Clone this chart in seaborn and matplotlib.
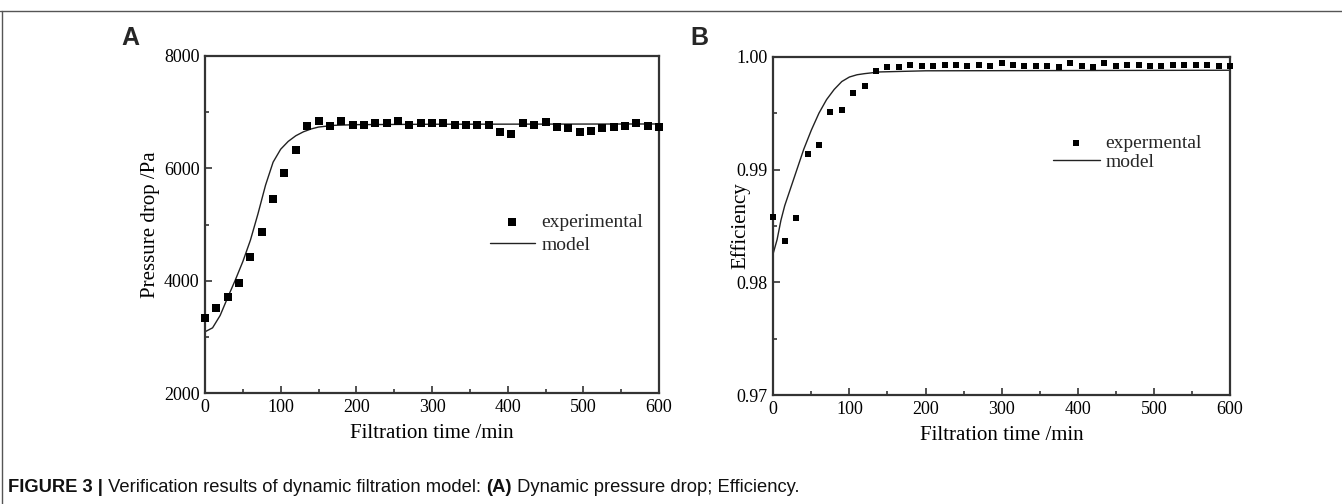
import matplotlib
matplotlib.use("Agg")
import matplotlib.pyplot as plt
from matplotlib import font_manager
from matplotlib.lines import Line2D
from matplotlib.ticker import MultipleLocator, FormatStrFormatter
import seaborn as sns
import pandas as pd

# ---------------- data ----------------
time_exp = [0, 15, 30, 45, 60, 75, 90, 105, 120, 135, 150, 165, 180, 195, 210, 225, 240,
            255, 270, 285, 300, 315, 330, 345, 360, 375, 390, 405, 420, 435, 450, 465,
            480, 495, 510, 525, 540, 555, 570, 585, 600]
pressure_exp = [3330, 3520, 3715, 3950, 4415, 4865, 5450, 5910, 6335, 6745, 6835, 6745,
                6835, 6780, 6770, 6815, 6815, 6845, 6770, 6805, 6810, 6810, 6765, 6765,
                6765, 6770, 6650, 6610, 6805, 6765, 6820, 6735, 6710, 6650, 6660, 6710,
                6735, 6745, 6800, 6745, 6730]
efficiency_exp = [0.9858, 0.9837, 0.9857, 0.9914, 0.9922, 0.9951, 0.9953, 0.9968, 0.9974,
                  0.9987, 0.9991, 0.9991, 0.9993, 0.9992, 0.9992, 0.9993, 0.9993, 0.9992,
                  0.9993, 0.9992, 0.9994, 0.9993, 0.9992, 0.9992, 0.9992, 0.9991, 0.9994,
                  0.9992, 0.9991, 0.9994, 0.9992, 0.9993, 0.9993, 0.9992, 0.9992, 0.9993,
                  0.9993, 0.9993, 0.9993, 0.9992, 0.9992]

time_model_p = [0, 10, 20, 30, 40, 50, 60, 70, 80, 90, 100, 110, 120, 130, 140, 150, 170,
                200, 300, 600]
pressure_model = [3090, 3160, 3380, 3700, 4010, 4340, 4720, 5190, 5700, 6110, 6340, 6480,
                  6580, 6650, 6700, 6735, 6765, 6778, 6785, 6790]

time_model_e = [0, 5, 10, 15, 20, 30, 40, 50, 60, 70, 80, 90, 100, 110, 120, 140, 200, 600]
efficiency_model = [0.9826, 0.9838, 0.9855, 0.9868, 0.9878, 0.9898, 0.9918, 0.9935, 0.9950,
                    0.9962, 0.9971, 0.9978, 0.9982, 0.9984, 0.9985, 0.99865, 0.99875, 0.9988]

x_label = "Filtration time /min"
y_label_a = "Pressure drop /Pa"
y_label_b = "Efficiency"
legend_a = ["experimental", "model"]
legend_b = ["expermental", "model"]
caption_parts = [("FIGURE 3 |", "bold"),
                 (" Verification results of dynamic filtration model: ", "normal"),
                 ("(A)", "bold"),
                 (" Dynamic pressure drop; Efficiency.", "normal")]

# ---------------- style ----------------
sns.set_theme(style="ticks")
serif = ["Liberation Serif", "DejaVu Serif"]
plt.rcParams["font.family"] = serif
names = {f.name for f in font_manager.fontManager.ttflist}
cap_font = ["Liberation Sans Narrow"] if "Liberation Sans Narrow" in names else ["Liberation Sans", "DejaVu Sans"]

spine_col = "#333333"
W, H = 1342, 504
fig = plt.figure(figsize=(W / 100, H / 100), dpi=100)
fig.patch.set_facecolor("white")

axA = fig.add_axes([205 / W, 1 - 393 / H, 454 / W, 337 / H])
axB = fig.add_axes([773.3 / W, 1 - 395.3 / H, 456.7 / W, 338.6 / H])

dfA = pd.DataFrame({"t": time_exp, "v": pressure_exp})
dfAm = pd.DataFrame({"t": time_model_p, "v": pressure_model})
dfB = pd.DataFrame({"t": time_exp, "v": efficiency_exp})
dfBm = pd.DataFrame({"t": time_model_e, "v": efficiency_model})

sns.scatterplot(data=dfA, x="t", y="v", ax=axA, marker="s", s=38, color="black",
                edgecolor="black", linewidth=0, label=legend_a[0], zorder=3, clip_on=False)
sns.lineplot(data=dfAm, x="t", y="v", ax=axA, color="#222222", linewidth=1.0,
             label=legend_a[1], zorder=2)
sns.scatterplot(data=dfB, x="t", y="v", ax=axB, marker="s", s=14, color="black",
                edgecolor="black", linewidth=0, label=legend_b[0], zorder=3, clip_on=False)
sns.lineplot(data=dfBm, x="t", y="v", ax=axB, color="#222222", linewidth=1.0,
             label=legend_b[1], zorder=2)

for ax in (axA, axB):
    ax.set_xlim(0, 600)
    ax.xaxis.set_major_locator(MultipleLocator(100))
    ax.xaxis.set_minor_locator(MultipleLocator(50))
    ax.tick_params(which="both", direction="in", top=False, right=False,
                   colors=spine_col, labelcolor="black", labelsize=13, width=1.2)
    ax.tick_params(which="major", length=5, pad=4)
    ax.tick_params(which="minor", length=3)
    for sp in ax.spines.values():
        sp.set_visible(True)
        sp.set_color(spine_col)
        sp.set_linewidth(1.6)
    ax.set_xlabel(x_label, fontsize=15, labelpad=6, color="black")

axA.set_ylim(2000, 8000)
axA.yaxis.set_major_locator(MultipleLocator(2000))
axA.yaxis.set_minor_locator(MultipleLocator(1000))
axA.set_ylabel(y_label_a, fontsize=15, color="black")
axA.yaxis.set_label_coords((160 - 205) / 454, 0.5)

axB.set_ylim(0.97, 1.00)
axB.yaxis.set_major_locator(MultipleLocator(0.01))
axB.yaxis.set_minor_locator(MultipleLocator(0.005))
axB.yaxis.set_major_formatter(FormatStrFormatter("%.2f"))
axB.set_ylabel(y_label_b, fontsize=15, color="black")
axB.yaxis.set_label_coords((750 - 773.3) / 456.7, 0.5)

axA.legend(loc="upper left", bbox_to_anchor=((490 - 205) / 454, (393 - 213) / 337),
           frameon=False, fontsize=14, handlelength=2.3, handletextpad=0.35,
           labelspacing=0.3, borderpad=0, borderaxespad=0, markerscale=1.0)
axB.legend(loc="upper left", bbox_to_anchor=((1053 - 773.3) / 456.7, (395.3 - 134) / 338.6),
           frameon=False, fontsize=14, handlelength=2.4, handletextpad=0.3,
           labelspacing=0.1, borderpad=0, borderaxespad=0, markerscale=1.0)

# panel letters
for lx, letter in [(130, "A"), (699, "B")]:
    fig.text(lx / W, 1 - 38 / H, letter, fontsize=18, fontweight="bold",
             family=["Liberation Sans", "DejaVu Sans"], ha="center", va="center")

# frame lines
fig.add_artist(Line2D([0, 1], [1 - 11 / H, 1 - 11 / H], transform=fig.transFigure,
                      color="#555555", linewidth=1.0))
fig.add_artist(Line2D([2 / W, 2 / W], [0, 1 - 11 / H], transform=fig.transFigure,
                      color="#555555", linewidth=1.0))

# caption
fig.canvas.draw()
renderer = fig.canvas.get_renderer()
x = 8 / W
yc = 1 - 487 / H
for txt, wt in caption_parts:
    t = fig.text(x, yc, txt, fontsize=13.2, fontweight=wt, family=cap_font,
                 ha="left", va="center", color="#111111")
    bb = t.get_window_extent(renderer=renderer)
    x += bb.width / W

fig.savefig("out.png", dpi=100, facecolor="white")
